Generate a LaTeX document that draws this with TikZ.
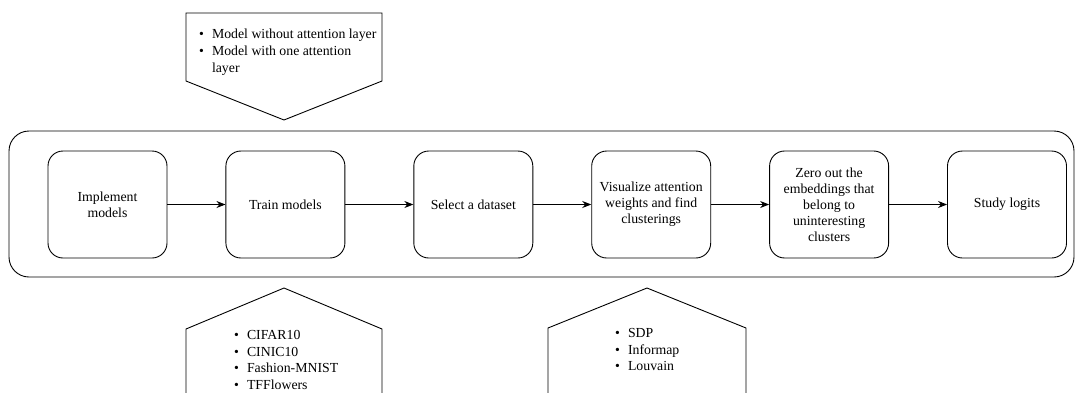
\documentclass[tikz,border=0pt]{standalone}
\usepackage{fontspec}
\setmainfont{Liberation Serif}
\usetikzlibrary{positioning}
\usetikzlibrary{arrows.meta}
\tikzset{stage/.style={draw, rounded corners=15pt, minimum width=119pt, minimum height=107pt, align=center, inner sep=2pt, font=\fontsize{13.8}{16}\selectfont, line width=0.9pt}}
\tikzset{frame/.style={draw, rounded corners=20pt, minimum width=1065pt, minimum height=146pt, line width=0.9pt}}
\tikzset{flow/.style={-{Stealth[length=9pt,width=7pt]}, line width=0.9pt}}
\tikzset{note/.style={anchor=west, inner sep=0pt, align=left, font=\fontsize{13.8}{16.5}\selectfont}}

\begin{document}
\begin{tikzpicture}[x=1pt,y=-1pt]
\useasboundingbox (0,0) rectangle (1075,392);
\clip (0,0) rectangle (1075,392);
\def\lw{0.9pt}

\node[frame] (outer) at (541.5,204) {};

\node[stage] (impl) at (107.5,204.5) {Implement\\models};
\node[stage, right=58pt of impl] (train) {Train models};
\node[stage, right=68pt of train] (select) {Select a dataset};
\node[stage, right=58pt of select] (visual) {Visualize attention\\weights and find\\clusterings};
\node[stage, right=58pt of visual] (zero) {Zero out the\\embeddings that\\belong to\\uninteresting\\clusters};
\node[stage, right=58pt of zero] (study) {Study logits};

\draw[flow] (impl) -- (train);
\draw[flow] (train) -- (select);
\draw[flow] (select) -- (visual);
\draw[flow] (visual) -- (zero);
\draw[flow] (zero) -- (study);

% pentagons with the options
\draw[line width=\lw] (186,13) -- (382,13) -- (382,81) -- (284,120) -- (186,81) -- cycle;
\draw[line width=\lw] (186,400) -- (186,329) -- (284,288) -- (382,329) -- (382,400);
\draw[line width=\lw] (548,400) -- (548,328) -- (647,288) -- (746,328) -- (746,400);

\node[note, font=\fontsize{13.8}{17}\selectfont] (models) at (199,52) {\begin{tabular}{@{}l@{\hspace{8pt}}l@{}}
\textbullet & Model without attention layer\\
\textbullet & Model with one attention\\
 & layer
\end{tabular}};
\node[note] (datasets) at (234,361) {\begin{tabular}{@{}l@{\hspace{8pt}}l@{}}
\textbullet & CIFAR10\\
\textbullet & CINIC10\\
\textbullet & Fashion-MNIST\\
\textbullet & TFFlowers
\end{tabular}};
\node[note] (methods) at (615,351) {\begin{tabular}{@{}l@{\hspace{8pt}}l@{}}
\textbullet & SDP\\
\textbullet & Informap\\
\textbullet & Louvain
\end{tabular}};
\end{tikzpicture}
\end{document}
